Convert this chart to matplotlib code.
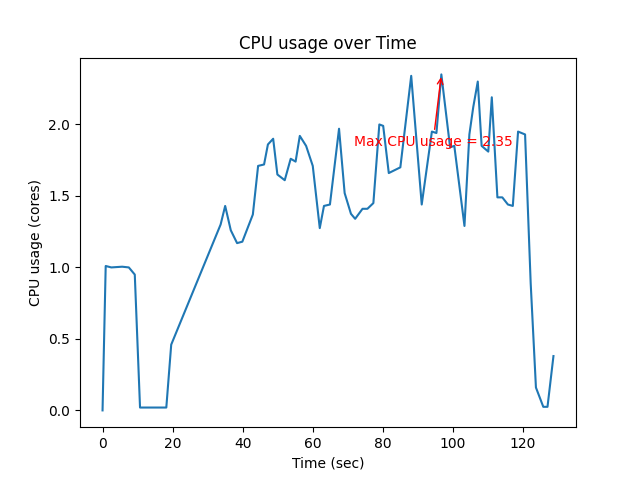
import numpy as np
import matplotlib
matplotlib.use("Agg")
import matplotlib.pyplot as plt

# time stamps (sec)
time_sec = [0.0, 0.9, 2.5, 5.6, 7.5, 9.2, 10.7, 18.2, 19.6, 33.7,
            35.0, 36.6, 38.4, 39.9, 42.9, 44.4, 46.1, 47.2, 48.7, 49.9,
            52.0, 53.7, 55.1, 56.3, 58.1, 60.0, 62.0, 63.2, 64.9, 67.5,
            69.1, 70.9, 72.1, 74.2, 75.6, 77.3, 79.0, 80.1, 81.7, 85.0,
            88.1, 91.1, 94.0, 95.3, 96.7, 99.2, 100.4, 103.3, 104.7, 105.8,
            107.1, 108.2, 110.1, 111.1, 112.7, 114.1, 115.7, 117.1, 118.6, 120.6,
            122.2, 123.7, 125.8, 127.0, 128.7]

# cpu usage (cores)
cpu_cores = [0.00, 1.01, 1.00, 1.005, 1.00, 0.95, 0.02, 0.02, 0.46, 1.30,
             1.43, 1.26, 1.17, 1.18, 1.37, 1.71, 1.72, 1.86, 1.90, 1.65,
             1.61, 1.76, 1.74, 1.92, 1.85, 1.71, 1.275, 1.43, 1.44, 1.97,
             1.52, 1.375, 1.34, 1.41, 1.41, 1.45, 2.00, 1.99, 1.66, 1.70,
             2.34, 1.44, 1.95, 1.94, 2.35, 1.84, 1.85, 1.29, 1.93, 2.12,
             2.30, 1.85, 1.81, 2.19, 1.49, 1.49, 1.44, 1.43, 1.95, 1.93,
             0.89, 0.16, 0.025, 0.025, 0.38]

t = np.array(time_sec)
cpu = np.array(cpu_cores)

fig, ax = plt.subplots(figsize=(6.4, 4.8), dpi=100)
ax.plot(t, cpu)

# mark the peak
i_max = int(np.argmax(cpu))
ax.annotate(f'Max CPU usage = {cpu[i_max]:.2f}',
            xy=(t[i_max], cpu[i_max]),
            xytext=(t[i_max] - 25, cpu[i_max] - 0.5),
            color='red',
            arrowprops=dict(arrowstyle='->', color='red'))

ax.set_title('CPU usage over Time')
ax.set_xlabel('Time (sec)')
ax.set_ylabel('CPU usage (cores)')

fig.savefig('out.png')
